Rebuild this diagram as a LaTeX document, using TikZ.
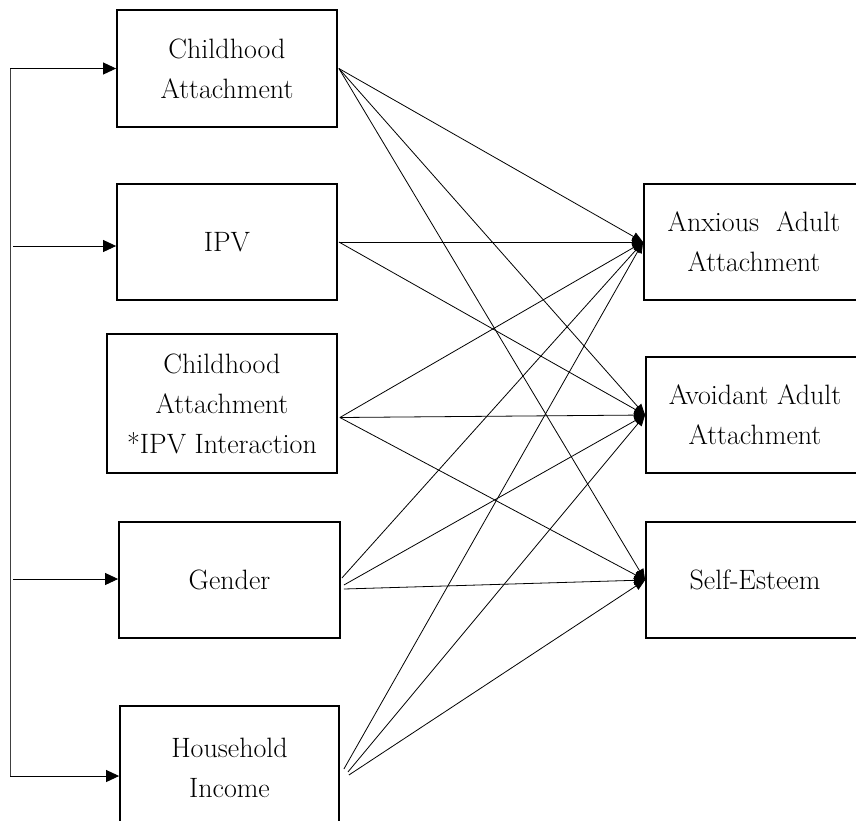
\documentclass[tikz,border=0pt]{standalone}
\usetikzlibrary{arrows.meta}
\tikzset{
  box/.style={draw, line width=1.8pt, rectangle, align=center, inner sep=0pt,
    font=\fontsize{28}{40}\selectfont},
  conn/.style={line width=0.8pt, -{Triangle[length=11pt,width=9pt]}},
  feed/.style={line width=0.9pt, -{Triangle[length=13pt,width=12pt]}},
}
\begin{document}
\begin{tikzpicture}[x=1pt,y=-1pt]
\useasboundingbox (0,0) rectangle (856,820);
\clip (0,0) rectangle (856,820);
% left boxes
\node[box, minimum width=220pt, minimum height=117pt] (ca)  at (227,68.5) {Childhood\\Attachment};
\node[box, minimum width=220pt, minimum height=116pt] (ipv) at (227,242) {IPV};
\node[box, minimum width=230pt, minimum height=139pt] (int) at (222,403.5) {Childhood\\Attachment\\*IPV Interaction};
\node[box, minimum width=221pt, minimum height=116pt] (gen) at (229.5,580) {Gender};
\node[box, minimum width=219pt, minimum height=124pt] (hh)  at (229.5,768) {Household\\Income};
% right boxes
\node[box, minimum width=220pt, minimum height=116pt] (anx) at (754,242) {Anxious \ Adult\\Attachment};
\node[box, minimum width=218pt, minimum height=116pt] (avo) at (755,415) {Avoidant Adult\\Attachment};
\node[box, minimum width=218pt, minimum height=116pt] (se)  at (755,580) {Self-Esteem};
% left feedback bracket
\coordinate (ltop) at (10,68.5);
\coordinate (lbot) at (10,776);
\coordinate (l2) at (13,246);
\coordinate (l4) at (13,579);
\draw[line width=0.9pt, black!75] (ltop) -- (lbot);
\draw[feed] (ltop) -- (ca.west);
\draw[feed] (l2) -- (l2 -| ipv.west);
\draw[feed] (l4) -- (l4 -| gen.west);
\draw[feed] (lbot) -- (lbot -| hh.west);
% paths
\draw[conn] ([xshift=1pt]ca.east) -- (anx.west);
\draw[conn] ([xshift=1pt]ca.east) -- (avo.west);
\draw[conn] ([xshift=1pt]ca.east) -- (se.west);
\draw[conn] ([xshift=1pt]ipv.east) -- (anx.west);
\draw[conn] ([xshift=1pt]ipv.east) -- (avo.west);
\draw[conn] ([xshift=2pt,yshift=-14pt]int.east) -- (anx.west);
\draw[conn] ([xshift=2pt,yshift=-14pt]int.east) -- (avo.west);
\draw[conn] ([xshift=2pt,yshift=-14pt]int.east) -- (se.west);
\draw[conn] ([xshift=1pt,yshift=2pt]gen.east) -- (anx.west);
\draw[conn] ([xshift=3pt,yshift=-5pt]gen.east) -- (avo.west);
\draw[conn] ([xshift=3pt,yshift=-9pt]gen.east) -- (se.west);
\draw[conn] ([xshift=4pt,yshift=-1pt]hh.east) -- (anx.west);
\draw[conn] ([xshift=8pt,yshift=-4pt]hh.east) -- (avo.west);
\draw[conn] ([xshift=9pt,yshift=-7pt]hh.east) -- (se.west);
\end{tikzpicture}
\end{document}
